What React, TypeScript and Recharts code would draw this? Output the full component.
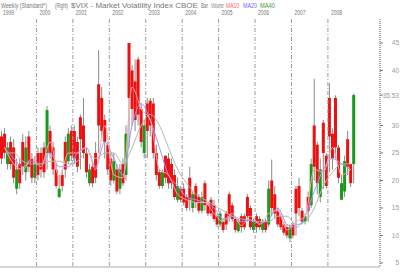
import React from 'react';
import {
  ComposedChart,
  Bar,
  Line,
  XAxis,
  YAxis,
  ReferenceLine
} from 'recharts';

// monthly OHLC, Jan 1999 .. Sep 2008
const open = [
  28, 28.5, 23, 27, 26, 18.5, 23, 27, 21.5, 28, 24, 20.5, // 1999
  25, 25, 26, 25, 29, 26, 22, 17, 21, 27, 23.5, 29, // 2000
  29, 27, 31.5, 30, 25, 19.5, 22.5, 25, 37.5, 35, 31, 26.5, // 2001
  24, 20, 22, 18.5, 23, 21, 45, 40, 38, 42, 33, 25, // 2002
  34, 34.5, 34, 25, 21.5, 19, 24.5, 24, 23, 21, 16.5, 18.5, // 2003
  18.5, 17, 20.5, 15, 19, 17, 14.5, 19.5, 15.5, 16.5, 15.5, 13.5, // 2004
  12, 12.5, 14, 17.5, 15.5, 13, 10.8, 13.5, 13.5, 17, 15, 11, // 2005
  13.5, 13, 11, 12.5, 12, 20, 17.5, 14.5, 13.5, 12, 11.5, 9.5, // 2006
  12, 18.5, 19, 14.5, 12.5, 17, 15.5, 30, 26.5, 17, 30.5, 24.5, // 2007
  35, 28.5, 35, 26, 16.5, 18, 27.5, 23, 23 // 2008
];
const high = [
  29, 29.5, 27, 28, 27.5, 24, 24, 28.5, 28, 29, 25, 24.5,
  26, 26, 27, 33.5, 30, 27, 23, 21, 22, 28, 29.5, 30,
  30, 28, 32, 35, 26, 23, 23.5, 27, 43.7, 37, 32, 27,
  25, 25, 23, 23, 24, 30, 45, 41, 42, 42.5, 34, 31,
  35, 35, 35, 26.5, 22, 22, 24.5, 25, 24, 22, 20.5, 19,
  19.5, 17.5, 22.5, 18, 19.5, 17.5, 18, 20, 16, 17, 16.5, 14,
  14.5, 13, 14.5, 18, 16, 13.5, 13, 14, 14, 17.5, 15.5, 13,
  14, 13.5, 13, 13, 20, 23.8, 19, 15, 14, 12.5, 12, 12,
  12.5, 19, 20.5, 15, 14, 18, 24, 38.5, 27, 24, 31, 25,
  37.7, 29.5, 35.5, 26.5, 21, 24.5, 29, 23, 35.8
];
const low = [
  23, 24, 22, 22, 19.5, 17.5, 18.5, 21, 20, 21.5, 19.5, 19.5,
  20, 20.5, 20.5, 22, 24, 21, 18.5, 16.8, 18, 20.5, 23, 23.5,
  23, 21.5, 22, 24, 20.5, 19, 18.8, 19.5, 25, 28, 24, 21,
  19, 19.5, 17.5, 17.5, 19, 20, 26, 30, 29, 30, 26, 24,
  24, 28, 24, 20, 18.5, 18.5, 19.5, 18.5, 18.5, 16.5, 16, 16,
  15.5, 14.5, 14.5, 14.2, 15, 14, 14, 14.5, 13.5, 13.5, 12.5, 11.5,
  11.5, 10.5, 11, 12.5, 12.5, 10.5, 10.5, 10.5, 11, 12.5, 11, 10.5,
  10.5, 11, 10.5, 10.5, 11.5, 13.5, 13, 11.5, 11, 10, 9.5, 8.8,
  9.5, 10, 13.5, 12, 12, 12.5, 15, 20, 17.5, 16, 18.5, 18.5,
  21.5, 22, 24, 19.5, 16.5, 17, 21, 18.8, 19.5
];
const close = [
  24, 25, 26, 23, 20.5, 22, 19.5, 22.5, 26, 22.5, 20.5, 23,
  21, 22, 21.5, 32.8, 25, 22, 19, 18.5, 19, 22, 28.5, 24.5,
  24, 22.5, 27.5, 25, 21.5, 22, 19.5, 20.5, 30, 29, 27, 22,
  20, 23.5, 18, 22, 19.5, 28.5, 35, 33, 31, 32, 27, 30,
  29, 30, 25, 21, 19, 21.5, 20.5, 19.5, 19.5, 17, 19, 16.5,
  16, 15, 16.5, 17.5, 16, 14.5, 17, 15.5, 14, 14, 13, 12,
  14, 11, 12, 13.5, 13, 11, 12.5, 11.5, 11.5, 13.5, 11.5, 12.5,
  11.5, 11.5, 12.5, 11, 18.5, 15, 14, 12, 11.5, 10.5, 10, 11.5,
  10, 14, 15, 12.5, 13.5, 14.5, 23, 22.5, 19.5, 22, 25, 19,
  28, 24, 26, 20.5, 19.5, 23.5, 22.5, 19.5, 35.53
];

// moving averages, one reading per quarter (mid-quarter)
const ma10 = [
  26, 23, 22, 24, 22.5, 27, 20.5, 25, 25, 26, 22, 30,
  21, 20.5, 37, 33, 31, 22, 21, 17.5, 16.5, 16, 16, 14,
  12.5, 14, 11.8, 13.5, 12, 14, 14.5, 11, 12.5, 13.5, 22, 21.5,
  26, 21, 22
];
const ma20 = [
  26, 24, 22.5, 23.5, 23, 25, 22.5, 22.5, 25, 26, 22.5, 27,
  24, 21, 30, 34, 31, 26, 21, 19, 17, 16.5, 16, 15,
  13, 13.5, 12.5, 12.8, 12.2, 13, 15, 12, 11.5, 13.5, 18, 22,
  24, 23, 22
];
const ma40 = [
  25, 25, 23.5, 23, 23, 23.5, 23.5, 23, 23.5, 25, 24, 25,
  25, 23, 26, 30, 32, 30, 26, 22, 19.5, 17.5, 16.5, 15.5,
  14.5, 13.5, 13, 12.8, 12.5, 12.5, 13.5, 13.5, 12, 12.5, 15, 19,
  21.5, 23, 23
];

const yearTicks = [1999, 2000, 2001, 2002, 2003, 2004, 2005, 2006, 2007, 2008];
const gridYears = [2000, 2001, 2002, 2003, 2004, 2005, 2006, 2007, 2008];
const priceTicks = [5, 10, 15, 20, 25, 30, 35.53, 40, 45];

const rows = open.map((o, i) => {
  const q = i % 3 === 1 ? (i - 1) / 3 : -1;
  return {
    t: 1999 + (i + 0.5) / 12,
    open: o,
    high: high[i],
    low: low[i],
    close: close[i],
    range: [low[i], high[i]],
    ma10: q >= 0 ? ma10[q] : null,
    ma20: q >= 0 ? ma20[q] : null,
    ma40: q >= 0 ? ma40[q] : null
  };
});

const FONT = '"Liberation Sans", Arial, sans-serif';
const Y_MIN = 4.27;
const Y_MAX = 49.36;

let ctx: CanvasRenderingContext2D | null = null;
const measure = (text: string, size: number) => {
  if (!ctx) ctx = document.createElement('canvas').getContext('2d');
  if (!ctx) return text.length * size * 0.5;
  ctx.font = `${size}px "Liberation Sans"`;
  return ctx.measureText(text).width || text.length * size * 0.5;
};

// squeezed label: scaled horizontally to fit width w
const Squeezed = ({ text, x, y, w, size, color, anchor = 'start' }: any) => {
  const sx = w / measure(String(text), size);
  return (
    <text
      transform={`translate(${x},${y}) scale(${sx},1)`}
      fontSize={size}
      fill={color}
      fontFamily={FONT}
      textAnchor={anchor}
    >
      {text}
    </text>
  );
};

const Candle = (props: any) => {
  const { x, y, width, height, payload } = props;
  if (!payload || height == null) return null;
  const { open: o, close: c, high: h, low: l } = payload;
  const top = Math.min(y, y + height);
  const span = Math.abs(height);
  const k = span / (h - l);
  const cx = x + width / 2;
  const bodyTop = top + (h - Math.max(o, c)) * k;
  const bodyH = Math.max(Math.abs(o - c) * k, 1);
  const up = c >= o;
  return (
    <g>
      <line x1={cx} x2={cx} y1={top} y2={top + span} stroke="#8a8a8a" strokeWidth={1} />
      <rect x={cx - 1.5} y={bodyTop} width={3} height={bodyH} fill={up ? '#1a9a1a' : '#ee1010'} />
    </g>
  );
};

const YearTick = (props: any) => {
  const { x, payload } = props;
  return <Squeezed text={payload.value} x={x + 3} y={15} w={11} size={7} color="#777" />;
};

const PriceTick = (props: any) => {
  const { y, payload } = props;
  return (
    <text x={399} y={y + 2.5} fontSize={6.5} fill="#999" fontFamily={FONT} textAnchor="end">
      {payload.value}
    </text>
  );
};

const header = [
  { text: 'Weekly (Standard*)', x: 1, w: 46, color: '#777' },
  { text: '(Right)', x: 55, w: 13, color: '#777' },
  { text: '$VIX - Market Volatility Index CBOE', x: 71, w: 127, color: '#777' },
  { text: 'Bar', x: 201, w: 7, color: '#777' },
  { text: 'Volume', x: 211, w: 12.5, color: '#777' },
  { text: 'MA10', x: 226, w: 13, color: '#ff6060' },
  { text: 'MA20', x: 243, w: 14, color: '#6a6aff' },
  { text: 'MA40', x: 260, w: 15, color: '#3a9a3a' }
];

export default function App() {
  return (
    <div style={{ position: 'absolute', left: 0, top: 0, width: 400, height: 272, background: '#fff' }}>
      <svg width={400} height={12} style={{ position: 'absolute', left: 0, top: 0 }}>
        {header.map((h) => (
          <Squeezed key={h.text} text={h.text} x={h.x} y={8} w={h.w} size={7} color={h.color} />
        ))}
      </svg>
      <ComposedChart width={400} height={272} data={rows} margin={{ top: 0, right: 0, bottom: 5, left: 0 }}>
        <XAxis
          xAxisId="t"
          dataKey="t"
          type="number"
          orientation="top"
          domain={[1999, 2009.43]}
          ticks={yearTicks}
          allowDataOverflow
          height={19}
          axisLine={false}
          tickLine={false}
          tick={<YearTick />}
          interval={0}
        />
        <YAxis
          yAxisId="p"
          orientation="right"
          type="number"
          domain={[Y_MIN, Y_MAX]}
          ticks={priceTicks}
          allowDataOverflow
          width={20}
          axisLine={{ stroke: '#555', strokeDasharray: '1 1' }}
          tickLine={{ stroke: '#777' }}
          tickSize={3}
          tick={<PriceTick />}
          interval={0}
        />
        {gridYears.map((yr) => (
          <ReferenceLine key={yr} xAxisId="t" yAxisId="p" x={yr} stroke="#9a9a9a" strokeDasharray="4 2 1 2" />
        ))}
        <ReferenceLine xAxisId="t" yAxisId="p" y={Y_MIN} stroke="#aaa" />
        <Bar xAxisId="t" yAxisId="p" dataKey="range" barSize={3} shape={<Candle />} isAnimationActive={false} />
        <Line xAxisId="t" yAxisId="p" type="monotone" dataKey="ma40" stroke="#a8c0a8" strokeWidth={1} dot={false} connectNulls isAnimationActive={false} />
        <Line xAxisId="t" yAxisId="p" type="monotone" dataKey="ma20" stroke="#9999ff" strokeWidth={1} dot={false} connectNulls isAnimationActive={false} />
        <Line xAxisId="t" yAxisId="p" type="monotone" dataKey="ma10" stroke="#ffa8a8" strokeWidth={1} dot={false} connectNulls isAnimationActive={false} />
      </ComposedChart>
    </div>
  );
}
